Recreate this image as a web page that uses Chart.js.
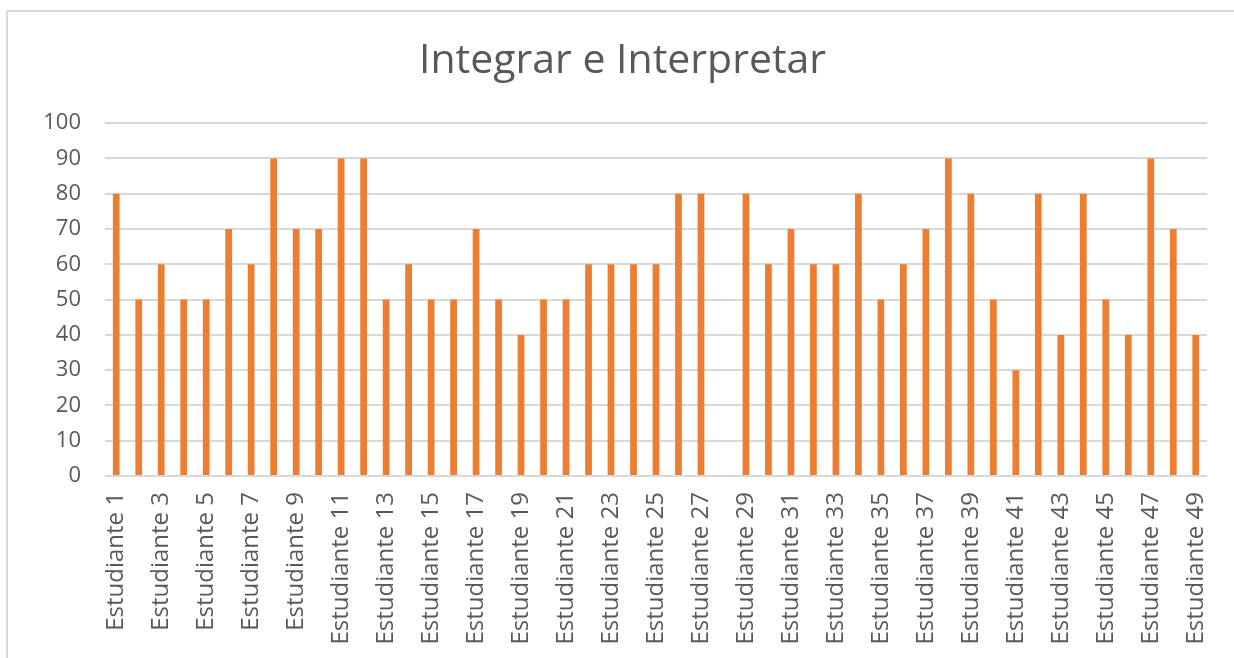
<!DOCTYPE html>
<html>
<head>
<meta charset="utf-8">
<script src="https://cdn.jsdelivr.net/npm/chart.js@4"></script>
<style>
  html, body { margin: 0; padding: 0; background: #fff; }
  #wrap { position: absolute; left: 0; top: 0; width: 1234px; height: 658px; }
  #frame { position: absolute; left: 6px; top: 10px; width: 1240px; height: 660px;
           border-left: 2px solid #d9d9d9; border-top: 2px solid #d9d9d9; }
</style>
</head>
<body>
<div id="wrap">
  <div id="frame"></div>
  <canvas id="myChart" width="1234" height="658"></canvas>
</div>
<script>
// datos
const titulo = "Integrar e Interpretar";
const estudiantes = Array.from({length: 49}, (_, i) => "Estudiante " + (i + 1));
const notas = [80,50,60,50,50,70,60,90,70,70,
               90,90,50,60,50,50,70,50,40,50,
               50,60,60,60,60,80,80,0,80,60,
               70,60,60,80,50,60,70,90,80,50,
               30,80,40,80,50,40,90,70,40];
const yTicks = [0,10,20,30,40,50,60,70,80,90,100];

const gris = "#595959";

const ctx = document.getElementById('myChart');
new Chart(ctx, {
  type: 'bar',
  data: {
    labels: estudiantes,
    datasets: [{
      data: notas,
      backgroundColor: "#ED7D31",
      barPercentage: 0.3,
      categoryPercentage: 1
    }]
  },
  options: {
    responsive: false,
    animation: false,
    layout: { padding: { left: 38, right: 27, top: 0, bottom: 0 } },
    plugins: {
      legend: { display: false },
      tooltip: { enabled: false },
      title: {
        display: true,
        text: titulo,
        color: gris,
        font: { family: "Open Sans", size: 41, weight: 'normal' },
        padding: { top: 37, bottom: 37 }
      }
    },
    scales: {
      x: {
        grid: { display: false },
        border: { display: false },
        ticks: {
          autoSkip: false,
          maxRotation: 90,
          minRotation: 90,
          color: gris,
          padding: 8,
          font: { family: "Open Sans", size: 24 },
          callback: function (v, i) { return i % 2 === 0 ? estudiantes[i] : ''; }
        },
        afterFit: function (s) { s.height = 182; }
      },
      y: {
        min: 0,
        max: 100,
        afterBuildTicks: function (s) { s.ticks = yTicks.map(v => ({ value: v })); },
        grid: { color: "#d9d9d9", lineWidth: 2, drawTicks: false },
        border: { display: false },
        ticks: {
          color: gris,
          padding: 24,
          font: { family: "Open Sans", size: 22 }
        },
        afterFit: function (s) { s.width = 67; }
      }
    }
  }
});
</script>
</body>
</html>
